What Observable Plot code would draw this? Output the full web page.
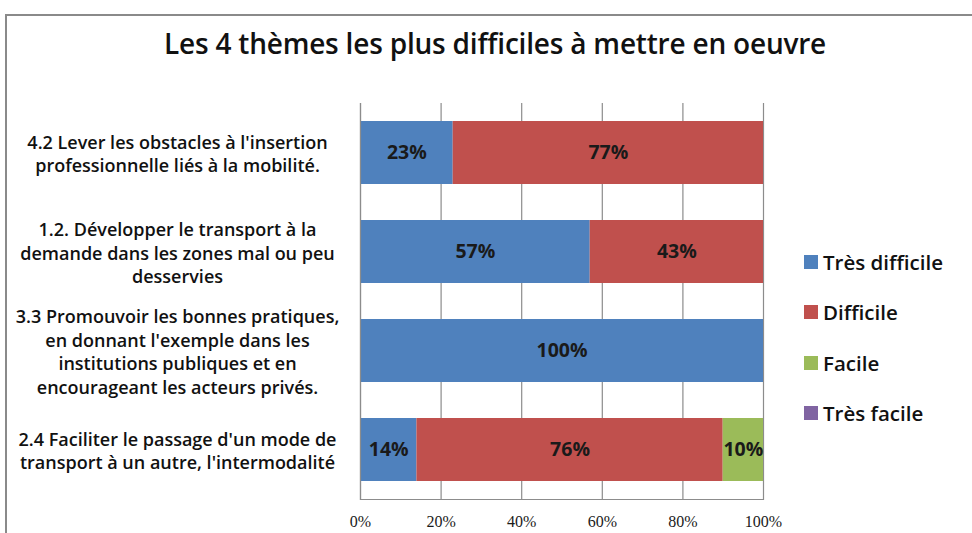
<!DOCTYPE html>
<html>
<head>
<meta charset="utf-8">
<script src="https://cdn.jsdelivr.net/npm/d3@7"></script>
<script src="https://cdn.jsdelivr.net/npm/@observablehq/plot@0.6"></script>
<style>
  html, body { margin: 0; padding: 0; background: #fff; }
  #wrap { position: relative; width: 972px; height: 533px; overflow: hidden; font-family: "Open Sans", sans-serif; }
  #frame { position: absolute; left: 5px; top: 14px; width: 1000px; height: 600px; border-top: 2px solid #8a8a8a; border-left: 2px solid #8a8a8a; box-sizing: border-box; }
  #title { position: absolute; left: 0; top: 24px; width: 990px; text-align: center; font-size: 28px; font-weight: 600; color: #111; letter-spacing: -0.2px; }
  #chart { position: absolute; left: 0; top: 0; }
  #legend { position: absolute; left: 804px; top: 250px; font-size: 20.5px; font-weight: 600; color: #111; }
  .item { display: flex; align-items: center; height: 50.3px; margin-top: -13px; margin-bottom: 13px; }
  .item span.sw { display: inline-block; width: 14px; height: 14px; margin-right: 5px; }
</style>
</head>
<body>
<div id="wrap">
  <div id="frame"></div>
  <div id="chart"></div>
  <div id="title"></div>
  <div id="legend"></div>
</div>
<script>
const title = "Les 4 thèmes les plus difficiles à mettre en oeuvre";
const themes = [
  "4.2 Lever les obstacles à l'insertion\nprofessionnelle liés à la mobilité.",
  "1.2. Développer le transport à la\ndemande dans les zones mal ou peu\ndesservies",
  "3.3 Promouvoir les bonnes pratiques,\nen donnant l'exemple dans les\ninstitutions publiques et en\nencourageant les acteurs privés.",
  "2.4 Faciliter le passage d'un mode de\ntransport à un autre, l'intermodalité"
];
const series = ["Très difficile", "Difficile", "Facile", "Très facile"];
const colors = ["#4F81BD", "#C0504D", "#9BBB59", "#8064A2"];
const tresDifficile = [23, 57, 100, 14];
const difficile = [77, 43, 0, 76];
const facile = [0, 0, 0, 10];
const tresFacile = [0, 0, 0, 0];
const xTicks = [0, 20, 40, 60, 80, 100];

const valuesBySeries = [tresDifficile, difficile, facile, tresFacile];
const data = [];
themes.forEach((t, i) => {
  series.forEach((s, j) => {
    data.push({theme: t, serie: s, value: valuesBySeries[j][i]});
  });
});
const nonZero = data.filter(d => d.value > 0);

document.getElementById("title").textContent = title;

const chart = Plot.plot({
  width: 972,
  height: 533,
  marginLeft: 360,
  marginRight: 209,
  marginTop: 103,
  marginBottom: 34,
  style: {background: "transparent", overflow: "visible"},
  x: {domain: [0, 100]},
  y: {domain: themes, paddingInner: 0.36, paddingOuter: 0.18},
  color: {domain: series, range: colors},
  marks: [
    Plot.gridX(xTicks, {stroke: "#8c8c8c", strokeOpacity: 1, strokeWidth: 1.2}),
    Plot.barX(data, Plot.stackX({
      x: "value", y: "theme", fill: "serie", order: series
    })),
    Plot.text(nonZero, Plot.stackX({
      x: "value", y: "theme", z: "serie", order: series,
      text: d => d.value + "%",
      fontSize: 19.5, fontWeight: 700, fill: "#1a1a1a",
      fontFamily: "Open Sans"
    })),
    Plot.axisX(xTicks, {
      tickSize: 0, tickPadding: 16, tickFormat: d => d + "%",
      fontSize: 16, fontFamily: "Liberation Serif", fill: "#1a1a1a", label: null
    }),
    Plot.axisY({
      tickSize: 0, tickPadding: 183, textAnchor: "middle", lineHeight: 1.3,
      fontSize: 18, fontWeight: 600, fontFamily: "Open Sans", fill: "#111", label: null
    }),
    Plot.frame({anchor: "left", stroke: "#8c8c8c", strokeWidth: 1.2}),
    Plot.frame({anchor: "bottom", stroke: "#8c8c8c", strokeWidth: 1.2})
  ]
});
document.getElementById("chart").appendChild(chart);

const legend = document.getElementById("legend");
series.forEach((s, j) => {
  const it = document.createElement("div");
  it.className = "item";
  const sw = document.createElement("span");
  sw.className = "sw";
  sw.style.background = colors[j];
  it.appendChild(sw);
  it.appendChild(document.createTextNode(s));
  legend.appendChild(it);
});
</script>
</body>
</html>
